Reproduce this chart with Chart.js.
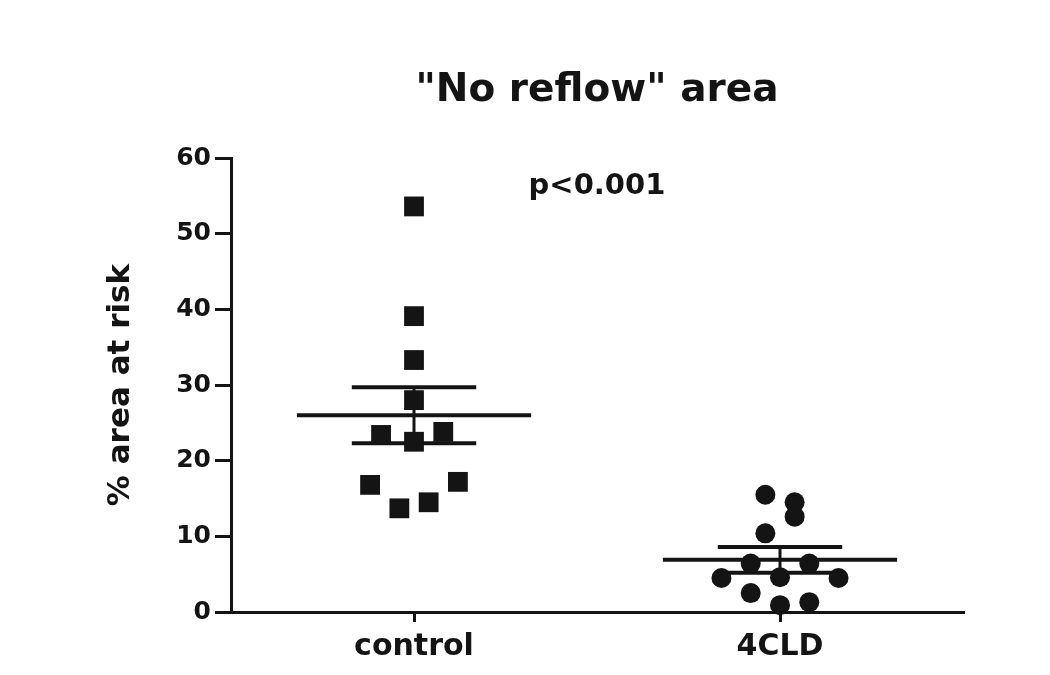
<!DOCTYPE html>
<html>
<head>
<meta charset="utf-8">
<script src="https://cdn.jsdelivr.net/npm/chart.js@4.4.1/dist/chart.umd.min.js"></script>
<style>
  html, body { margin: 0; padding: 0; background: #fff; }
  #wrap { width: 1050px; height: 675px; }
</style>
</head>
<body>
<div id="wrap"><canvas id="chart" width="1050" height="675"></canvas></div>
<script>
// data
const categories = ['control', '4CLD'];
const controlX = [1.0, 1.0, 1.0, 1.0, 0.91, 1.0, 1.08, 0.88, 0.96, 1.04, 1.12];
const controlY = [53.6, 39.1, 33.3, 28.0, 23.4, 22.5, 23.8, 16.8, 13.7, 14.5, 17.2];
const cldX = [1.96, 2.04, 2.04, 1.96, 1.84, 1.92, 2.0, 2.08, 2.16, 1.92, 2.0, 2.08];
const cldY = [15.5, 14.5, 12.6, 10.4, 4.5, 6.4, 4.6, 6.4, 4.5, 2.5, 0.9, 1.3];
const means = [26.0, 6.9];
const sems = [3.7, 1.7];
const yTicks = [0, 10, 20, 30, 40, 50, 60];
const titleText = '"No reflow" area';
const pText = 'p<0.001';

const ink = '#141414';
const font = '"DejaVu Sans", "Liberation Sans", Arial, sans-serif';

// mean and SEM lines as small two-point line datasets
function seg(x0, x1, y0, y1, w) {
  return {
    type: 'line',
    data: [{ x: x0, y: y0 }, { x: x1, y: y1 }],
    borderColor: ink,
    borderWidth: w,
    pointRadius: 0,
    showLine: true,
    clip: false,
  };
}
const lineSets = [];
means.forEach((m, i) => {
  const c = i + 1;
  lineSets.push(seg(c - 0.32, c + 0.32, m, m, 4));
  lineSets.push(seg(c - 0.17, c + 0.17, m + sems[i], m + sems[i], 4));
  lineSets.push(seg(c - 0.17, c + 0.17, m - sems[i], m - sems[i], 4));
  lineSets.push(seg(c, c, m - sems[i], m + sems[i], 3));
});

// title and p value, centred over the middle of the x range
const textLabels = {
  id: 'textLabels',
  afterDatasetsDraw(chart) {
    const { ctx, scales } = chart;
    const cx = scales.x.getPixelForValue(1.5);
    ctx.save();
    ctx.fillStyle = ink;
    ctx.textAlign = 'center';
    ctx.textBaseline = 'alphabetic';
    ctx.font = 'bold 39px ' + font;
    ctx.fillText(titleText, cx, 101);
    ctx.font = 'bold 29px ' + font;
    ctx.fillText(pText, cx, scales.y.getPixelForValue(55.3));
    ctx.restore();
  }
};

new Chart(document.getElementById('chart'), {
  type: 'scatter',
  data: {
    datasets: [
      ...lineSets,
      {
        data: controlX.map((x, i) => ({ x, y: controlY[i] })),
        pointStyle: 'rect',
        pointRadius: 14,
        backgroundColor: ink,
        borderWidth: 0,
        clip: false,
      },
      {
        data: cldX.map((x, i) => ({ x, y: cldY[i] })),
        pointStyle: 'circle',
        pointRadius: 10,
        backgroundColor: ink,
        borderWidth: 0,
        clip: false,
      },
    ]
  },
  options: {
    responsive: false,
    animation: false,
    devicePixelRatio: 1,
    layout: { padding: { left: 100, right: 87, top: 158, bottom: 0 } },
    plugins: {
      legend: { display: false },
      tooltip: { enabled: false },
      title: { display: false },
    },
    scales: {
      x: {
        type: 'linear',
        min: 0.5,
        max: 2.5,
        afterBuildTicks: (s) => { s.ticks = categories.map((_, i) => ({ value: i + 1 })); },
        afterFit: (s) => { s.height = 63; },
        ticks: {
          color: ink,
          font: { family: font, size: 30, weight: 'bold' },
          padding: 7,
          callback: (v) => categories[v - 1],
          maxRotation: 0,
        },
        grid: { drawOnChartArea: false, color: ink, lineWidth: 3, tickLength: 10 },
        border: { color: ink, width: 3 },
      },
      y: {
        min: 0,
        max: 60,
        afterBuildTicks: (s) => { s.ticks = yTicks.map((v) => ({ value: v })); },
        afterFit: (s) => { s.width = 131; },
        ticks: {
          color: ink,
          font: { family: font, size: 25, weight: 'bold' },
          padding: 4,
        },
        grid: { drawOnChartArea: false, color: ink, lineWidth: 3, tickLength: 16 },
        border: { color: ink, width: 3 },
        title: {
          display: true,
          text: '% area at risk',
          color: ink,
          font: { family: font, size: 31, weight: 'bold' },
          padding: { top: 2, bottom: 0 },
        },
      },
    },
  },
  plugins: [textLabels],
});
</script>
</body>
</html>
